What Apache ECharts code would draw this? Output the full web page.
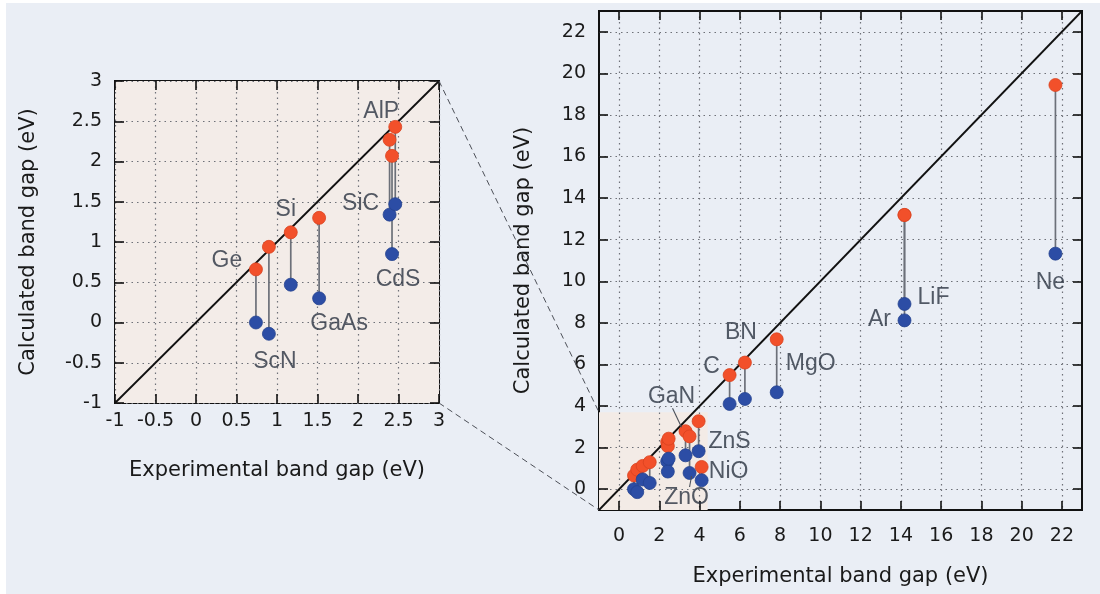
<!DOCTYPE html>
<html>
<head>
<meta charset="utf-8">
<script src="https://cdn.jsdelivr.net/npm/echarts@6/dist/echarts.min.js"></script>
<style>
  html, body { margin: 0; padding: 0; background: #ffffff; }
  #chart { width: 1100px; height: 594px; }
</style>
</head>
<body>
<div id="chart"></div>
<script>
// Band gaps (eV): experimental vs. two calculated sets
const materials = ['Ge', 'ScN', 'Si', 'GaAs', 'SiC', 'CdS', 'AlP', 'GaN', 'ZnO', 'ZnS', 'NiO', 'C', 'BN', 'MgO', 'LiF', 'Ar', 'Ne'];
const expGap   = [0.74, 0.90, 1.17, 1.52, 2.39, 2.42, 2.46, 3.30, 3.50, 3.95, 4.10, 5.49, 6.25, 7.83, 14.18, 14.18, 21.68];
const calcRed  = [0.66, 0.94, 1.12, 1.30, 2.27, 2.07, 2.43, 2.79, 2.54, 3.27, 1.07, 5.49, 6.09, 7.21, 13.19, 13.19, 19.44];
const calcBlue = [0.00, -0.14, 0.47, 0.30, 1.34, 0.85, 1.47, 1.63, 0.78, 1.83, 0.43, 4.10, 4.34, 4.66, 8.91, 8.12, 11.33];

// Axis ranges and tick values
const insetRange = [-1, 3];
const insetStep = 0.5;
const mainRange = [-1, 23];
const mainTicks = [0, 2, 4, 6, 8, 10, 12, 14, 16, 18, 20, 22];
// zoomed region marked on the main panel (data units)
const zoomBoxMin = [-1, -1];
const zoomBoxMax = [4.4, 3.7];

// label placement: which point it hangs from, and pixel offset
const insetLabelPlacement = {
  Ge: ['red', -29, -9], ScN: ['blue', 6, 28], Si: ['red', -5, -23], GaAs: ['blue', 20, 25],
  SiC: ['blue', -29, -11], AlP: ['red', -14, -15], CdS: ['blue', 6, 26]
};
const mainLabelPlacement = {
  Ne: ['blue', -5, 29], LiF: ['blue', 29, -6], Ar: ['blue', -25, -1], BN: ['red', -4, -30],
  C: ['red', -18, -8], MgO: ['red', 34, 24], GaN: ['red', -14, -35], ZnS: ['blue', 31, -10],
  NiO: ['red', 27, 5], ZnO: ['blue', -3, 25]
};
// short leader lines from a label to its point (pixel offsets from the point)
const mainLeaders = [
  { name: 'GaN', anchor: 'red', from: [-4, -4], to: [-13, -23] },
  { name: 'ZnO', anchor: 'blue', from: [2, 3], to: [0, 14] }
];

const RED = '#f2502a';
const BLUE = '#2c4da5';
const STEM = '#6c7079';
const TEXT = '#1a1a1a';
const LABEL = '#2b3341';
const TICK_FONT = 'DejaVu Sans';
const AXIS_Z = 1.5;   // grid lines above shaded areas, below the data

const rows = materials.map((m, i) => ({ name: m, x: expGap[i], red: calcRed[i], blue: calcBlue[i] }));
const inRange = (r, rng) => r.x >= rng[0] && r.x <= rng[1];

const tickStyle = { color: '#111', width: 1.6 };

function valueAxis(extra) {
  return Object.assign({
    type: 'value', z: AXIS_Z,
    axisLine: { show: false, onZero: false },
    axisTick: { show: true, inside: true, length: 9, lineStyle: tickStyle },
    axisLabel: { show: true, color: TEXT, fontFamily: TICK_FONT, fontSize: 19 },
    splitLine: { show: true, lineStyle: { color: '#6e7178', width: 1.2, type: [1.5, 4] } },
    nameLocation: 'middle',
    nameTextStyle: { color: TEXT, fontFamily: TICK_FONT, fontSize: 21 }
  }, extra);
}
function mirrorAxis(extra) {
  return Object.assign({
    type: 'value', z: AXIS_Z,
    axisLine: { show: false, onZero: false },
    axisTick: { show: true, inside: true, length: 9, lineStyle: tickStyle },
    axisLabel: { show: false },
    splitLine: { show: false }
  }, extra);
}

const insetAxisCommon = { min: insetRange[0], max: insetRange[1], interval: insetStep };
const mainAxisCommon = {
  min: mainRange[0], max: mainRange[1],
  axisTick: { show: true, inside: true, length: 9, customValues: mainTicks, lineStyle: tickStyle }
};

function stemSeries(gi, data) {
  return {
    type: 'custom', xAxisIndex: gi * 2, yAxisIndex: gi * 2, silent: true, z: 2, clip: true,
    encode: { x: 0, y: [1, 2] },
    data: data.map(r => [r.x, r.red, r.blue]),
    renderItem: (params, api) => {
      const a = api.coord([api.value(0), api.value(1)]);
      const b = api.coord([api.value(0), api.value(2)]);
      return { type: 'line', shape: { x1: a[0], y1: a[1], x2: b[0], y2: b[1] }, style: { stroke: STEM, lineWidth: 1.7 } };
    }
  };
}
function dotSeries(gi, data, key, color, border) {
  return {
    type: 'scatter', xAxisIndex: gi * 2, yAxisIndex: gi * 2, silent: true, z: 4, clip: true,
    symbol: 'circle', symbolSize: 13,
    itemStyle: { color: color, opacity: 1, borderColor: border, borderWidth: 0.8 },
    data: data.map(r => [r.x, r[key]])
  };
}
function diagonalSeries(gi, rng) {
  return {
    type: 'line', xAxisIndex: gi * 2, yAxisIndex: gi * 2, silent: true, z: 3,
    symbol: 'none', lineStyle: { color: '#111', width: 1.8 },
    data: [[rng[0], rng[0]], [rng[1], rng[1]]]
  };
}
function labelSeries(gi, data, placement) {
  const items = data.filter(r => placement[r.name]).map(r => {
    const p = placement[r.name];
    return { name: r.name, value: [r.x, r[p[0]]], label: { offset: [p[1], p[2]] } };
  });
  return {
    type: 'scatter', xAxisIndex: gi * 2, yAxisIndex: gi * 2, silent: true, z: 6,
    symbolSize: 0, clip: false,
    label: {
      show: true, position: 'inside', formatter: '{b}', color: LABEL,
      fontFamily: 'Liberation Sans', fontSize: 23, align: 'center', verticalAlign: 'middle'
    },
    data: items
  };
}
function leaderSeries(gi, data, leaders) {
  const items = leaders.map(l => {
    const r = data.find(d => d.name === l.name);
    return [r.x, r[l.anchor], l.from[0], l.from[1], l.to[0], l.to[1]];
  });
  return {
    type: 'custom', xAxisIndex: gi * 2, yAxisIndex: gi * 2, silent: true, z: 5,
    encode: { x: 0, y: 1 },
    data: items,
    renderItem: (params, api) => {
      const c = api.coord([api.value(0), api.value(1)]);
      return {
        type: 'line',
        shape: { x1: c[0] + api.value(2), y1: c[1] + api.value(3), x2: c[0] + api.value(4), y2: c[1] + api.value(5) },
        style: { stroke: '#4a4f58', lineWidth: 1.1 }
      };
    }
  };
}
function shadeSeries(gi, lo, hi, color) {
  return {
    type: 'scatter', xAxisIndex: gi * 2, yAxisIndex: gi * 2, silent: true, z: 1, data: [],
    markArea: {
      silent: true, z: 1,
      itemStyle: { color: color },
      data: [[{ coord: lo }, { coord: hi }]]
    }
  };
}

const insetRows = rows.filter(r => inRange(r, insetRange));
const mainRows = rows;

const option = {
  backgroundColor: '#ffffff',
  animation: false,
  graphic: [{
    type: 'rect', z: -100, silent: true,
    shape: { x: 6, y: 3, width: 1094, height: 591 },
    style: { fill: '#eaeef5' }
  }],
  grid: [
    { left: 115, top: 81, width: 324, height: 322, show: true, backgroundColor: 'transparent', borderColor: '#111', borderWidth: 2 },
    { left: 599, top: 11, width: 483, height: 499, show: true, backgroundColor: 'transparent', borderColor: '#111', borderWidth: 2 }
  ],
  xAxis: [
    valueAxis(Object.assign({ gridIndex: 0, position: 'bottom', name: 'Experimental band gap (eV)', nameGap: 57 }, insetAxisCommon,
      { axisLabel: { show: true, color: TEXT, fontFamily: TICK_FONT, fontSize: 19, margin: 9 } })),
    mirrorAxis(Object.assign({ gridIndex: 0, position: 'top' }, insetAxisCommon)),
    valueAxis(Object.assign({ gridIndex: 1, position: 'bottom', name: 'Experimental band gap (eV)', nameGap: 56 }, mainAxisCommon,
      { axisLabel: { show: true, color: TEXT, fontFamily: TICK_FONT, fontSize: 19, margin: 17, customValues: mainTicks } })),
    mirrorAxis(Object.assign({ gridIndex: 1, position: 'top' }, mainAxisCommon))
  ],
  yAxis: [
    valueAxis(Object.assign({ gridIndex: 0, position: 'left', name: 'Calculated band gap (eV)', nameGap: 76 }, insetAxisCommon,
      { axisLabel: { show: true, color: TEXT, fontFamily: TICK_FONT, fontSize: 19, margin: 13 } })),
    mirrorAxis(Object.assign({ gridIndex: 0, position: 'right' }, insetAxisCommon)),
    valueAxis(Object.assign({ gridIndex: 1, position: 'left', name: 'Calculated band gap (eV)', nameGap: 65 }, mainAxisCommon,
      { axisLabel: { show: true, color: TEXT, fontFamily: TICK_FONT, fontSize: 19, margin: 13, customValues: mainTicks } })),
    mirrorAxis(Object.assign({ gridIndex: 1, position: 'right' }, mainAxisCommon))
  ],
  series: [
    // pink plot area of the inset, and the zoomed region on the main panel
    shadeSeries(0, [insetRange[0], insetRange[0]], [insetRange[1], insetRange[1]], '#f3ece8'),
    shadeSeries(1, zoomBoxMin, zoomBoxMax, '#f3ebe6'),
    diagonalSeries(0, insetRange),
    stemSeries(0, insetRows),
    dotSeries(0, insetRows, 'red', RED, '#d9431f'),
    dotSeries(0, insetRows, 'blue', BLUE, '#24428f'),
    labelSeries(0, insetRows, insetLabelPlacement),
    diagonalSeries(1, mainRange),
    stemSeries(1, mainRows),
    dotSeries(1, mainRows, 'red', RED, '#d9431f'),
    dotSeries(1, mainRows, 'blue', BLUE, '#24428f'),
    labelSeries(1, mainRows, mainLabelPlacement),
    leaderSeries(1, mainRows, mainLeaders)
  ]
};

const chart = echarts.init(document.getElementById('chart'), null, { renderer: 'canvas' });
chart.setOption(option);

// dashed connectors from the inset's right corners to the marked region
const pTopInset = chart.convertToPixel({ gridIndex: 0 }, [insetRange[1], insetRange[1]]);
const pBotInset = chart.convertToPixel({ gridIndex: 0 }, [insetRange[1], insetRange[0]]);
const pTopBox = chart.convertToPixel({ gridIndex: 1 }, [zoomBoxMin[0], zoomBoxMax[1]]);
const pBotBox = chart.convertToPixel({ gridIndex: 1 }, [zoomBoxMin[0], zoomBoxMin[1]]);
const dashStyle = { stroke: '#4d5058', lineWidth: 1, lineDash: [6, 4] };
chart.setOption({
  graphic: [
    option.graphic[0],
    { type: 'line', z: 10, silent: true, shape: { x1: pTopInset[0], y1: pTopInset[1], x2: pTopBox[0], y2: pTopBox[1] }, style: dashStyle },
    { type: 'line', z: 10, silent: true, shape: { x1: pBotInset[0], y1: pBotInset[1], x2: pBotBox[0], y2: pBotBox[1] }, style: dashStyle }
  ]
});
</script>
</body>
</html>
